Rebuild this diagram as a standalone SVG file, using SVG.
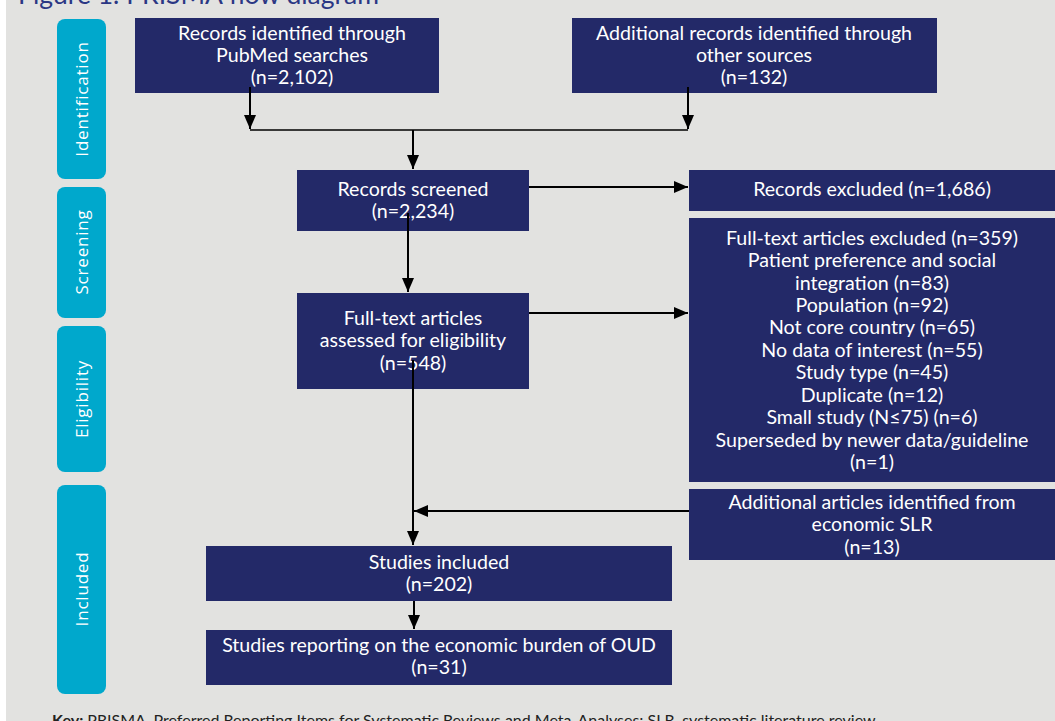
<svg xmlns="http://www.w3.org/2000/svg" width="1055" height="721" viewBox="0 0 1055 721">
<style>
.bg{fill:#e2e2e0}
.box{fill:#232968}
.side{fill:#00a8cc}
.bt{font-family:"Lato","Liberation Sans",sans-serif;font-size:19.6px;fill:#ffffff;text-anchor:middle}
.st{font-family:"Open Sans","Liberation Sans",sans-serif;font-size:17px;fill:#ffffff;text-anchor:middle;letter-spacing:0.8px}
.ln{stroke:#000;stroke-width:2;fill:none}
.thin{stroke:#000;stroke-width:1.5;fill:none}
.title{font-family:"Lato","Liberation Sans",sans-serif;font-size:26.5px;fill:#2b3784}
.key{font-family:"Lato","Liberation Sans",sans-serif;font-size:16px;fill:#222}
</style>
<defs>
<marker id="ah" markerUnits="userSpaceOnUse" markerWidth="14" markerHeight="14" refX="14" refY="7" orient="auto">
<path d="M0,1 L14,7 L0,13 Z" fill="#000"/>
</marker>
</defs>
<rect x="0" y="0" width="1055" height="721" fill="#ffffff"/>
<rect class="bg" x="6" y="0" width="1049" height="721"/>
<text class="title" x="18" y="4">Figure 1. PRISMA flow diagram</text>

<g id="stage-identification"><rect class="side" x="57" y="19" width="49" height="160" rx="8"/><text class="st" transform="translate(88,99) rotate(-90)">Identification</text></g>
<g id="stage-screening"><rect class="side" x="57" y="187" width="49" height="131" rx="8"/><text class="st" transform="translate(88,252) rotate(-90)">Screening</text></g>
<g id="stage-eligibility"><rect class="side" x="57" y="326" width="49" height="146" rx="8"/><text class="st" transform="translate(88,399) rotate(-90)">Eligibility</text></g>
<g id="stage-included"><rect class="side" x="57" y="485" width="49" height="209" rx="8"/><text class="st" transform="translate(88,589) rotate(-90)">Included</text></g>

<g id="pubmed"><rect class="box" x="135" y="18" width="304" height="75"/>
<text class="bt" x="292" y="40">Records identified through</text>
<text class="bt" x="292" y="62">PubMed searches</text>
<text class="bt" x="292" y="84">(n=2,102)</text></g>

<g id="other-sources"><rect class="box" x="572" y="18" width="365" height="75"/>
<text class="bt" x="754" y="40">Additional records identified through</text>
<text class="bt" x="754" y="62">other sources</text>
<text class="bt" x="754" y="84">(n=132)</text></g>

<g id="screened"><rect class="box" x="297" y="170" width="232" height="61"/>
<text class="bt" x="413" y="196">Records screened</text>
<text class="bt" x="413" y="218">(n=2,234)</text></g>

<g id="records-excluded"><rect class="box" x="689" y="170" width="366" height="41"/>
<text class="bt" x="872" y="196">Records excluded (n=1,686)</text></g>

<g id="fulltext-excluded"><rect class="box" x="689" y="218" width="366" height="264"/>
<text class="bt" x="872" y="245">Full-text articles excluded (n=359)</text>
<text class="bt" x="872" y="267">Patient preference and social</text>
<text class="bt" x="872" y="290">integration (n=83)</text>
<text class="bt" x="872" y="312">Population (n=92)</text>
<text class="bt" x="872" y="334">Not core country (n=65)</text>
<text class="bt" x="872" y="357">No data of interest (n=55)</text>
<text class="bt" x="872" y="379">Study type (n=45)</text>
<text class="bt" x="872" y="402">Duplicate (n=12)</text>
<text class="bt" x="872" y="424">Small study (N≤75) (n=6)</text>
<text class="bt" x="872" y="447">Superseded by newer data/guideline</text>
<text class="bt" x="872" y="469">(n=1)</text></g>

<g id="fulltext-assessed"><rect class="box" x="297" y="293" width="232" height="96"/>
<text class="bt" x="413" y="325">Full-text articles</text>
<text class="bt" x="413" y="347">assessed for eligibility</text>
<text class="bt" x="413" y="370">(n=548)</text></g>

<g id="additional-slr"><rect class="box" x="689" y="489" width="366" height="71"/>
<text class="bt" x="872" y="509">Additional articles identified from</text>
<text class="bt" x="872" y="531">economic SLR</text>
<text class="bt" x="872" y="554">(n=13)</text></g>

<g id="included"><rect class="box" x="206" y="546" width="466" height="55"/>
<text class="bt" x="439" y="569">Studies included</text>
<text class="bt" x="439" y="591">(n=202)</text></g>

<g id="economic-burden"><rect class="box" x="206" y="630" width="466" height="55"/>
<text class="bt" x="439" y="652">Studies reporting on the economic burden of OUD</text>
<text class="bt" x="439" y="674">(n=31)</text></g>

<g id="connectors">
<line class="ln" x1="250" y1="87" x2="250" y2="129" marker-end="url(#ah)"/>
<line class="ln" x1="688" y1="87" x2="688" y2="129" marker-end="url(#ah)"/>
<line class="thin" x1="250" y1="130" x2="688" y2="130"/>
<line class="ln" x1="413" y1="130" x2="413" y2="169" marker-end="url(#ah)"/>
<line class="ln" x1="529" y1="187" x2="688" y2="187" marker-end="url(#ah)"/>
<line class="ln" x1="408" y1="213" x2="408" y2="292" marker-end="url(#ah)"/>
<line class="ln" x1="529" y1="313" x2="688" y2="313" marker-end="url(#ah)"/>
<line class="ln" x1="413" y1="360" x2="413" y2="545" marker-end="url(#ah)"/>
<line class="ln" x1="689" y1="511" x2="414" y2="511" marker-end="url(#ah)"/>
<line class="ln" x1="414" y1="601" x2="414" y2="629" marker-end="url(#ah)"/>
</g>

<text class="key" x="52" y="726"><tspan font-weight="bold">Key:</tspan> PRISMA, Preferred Reporting Items for Systematic Reviews and Meta-Analyses; SLR, systematic literature review</text>
</svg>
